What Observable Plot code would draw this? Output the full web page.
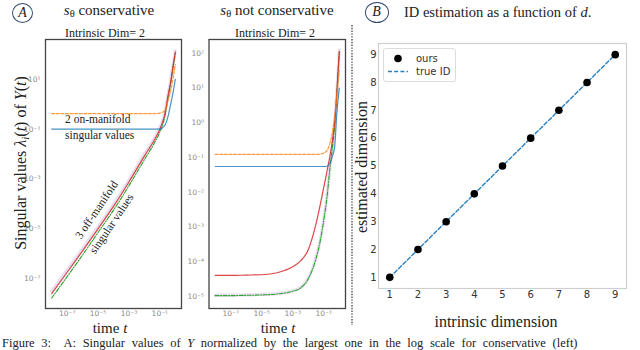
<!DOCTYPE html>
<html><head><meta charset="utf-8">
<script src="https://cdn.jsdelivr.net/npm/d3@7"></script>
<script src="https://cdn.jsdelivr.net/npm/@observablehq/plot@0.6"></script>
<style>
html,body{margin:0;padding:0;background:#fff;overflow:hidden;}
#root{position:relative;width:640px;height:350px;overflow:hidden;font-family:"Liberation Serif","Times New Roman",Tinos,"DejaVu Serif",serif;color:#222;}
.abs{position:absolute;white-space:nowrap;line-height:1;font-family:"Liberation Serif","Times New Roman",Tinos,"DejaVu Serif",serif;}
.panel{position:absolute;top:0;}
sub{font-size:70%;vertical-align:-0.25em;line-height:0;}
</style></head><body><div id="root"></div>
<script>
// ---------- Panel A, left: s_theta conservative ----------
const tLeft = [1e-8, 1e-7, 1e-6, 1e-5, 1e-4, 1e-3, 1e-2, 0.05, 0.1, 0.2, 0.35, 0.5, 0.7, 1.0];
const leftBlue   = [0.1, 0.1, 0.1, 0.1, 0.1, 0.1, 0.1, 0.1, 0.102, 0.135, 0.355, 1.0, 2.8, 10];
const leftOrange = [0.42, 0.42, 0.42, 0.42, 0.42, 0.42, 0.42, 0.42, 0.44, 0.54, 1.5, 3.5, 10, 40];
const leftRed    = [2.5e-8, 1.8e-7, 1.3e-6, 1.0e-5, 7.9e-5, 7.6e-4, 8.3e-3, 0.042, 0.10, 0.35, 2.5, 7.9, 32, 126];
const leftPurple = [3.2e-8, 2.2e-7, 1.6e-6, 1.2e-5, 9.5e-5, 9.1e-4, 0.010, 0.050, 0.117, 0.40, 2.8, 8.9, 35, 141];
const leftGreen  = [1.66e-8, 1.2e-7, 8.9e-7, 7.1e-6, 5.6e-5, 5.4e-4, 6.0e-3, 0.032, 0.076, 0.28, 2.1, 7.1, 28, 112];

// ---------- Panel A, middle: s_theta not conservative ----------
const tMid = [1e-8, 1e-7, 1e-6, 1e-5, 1e-4, 1e-3, 3.2e-3, 1e-2, 3.2e-2, 6.3e-2, 0.1, 0.16, 0.25, 0.35, 0.5, 0.7, 1.0];
const midBlue   = [0.055, 0.055, 0.055, 0.055, 0.055, 0.055, 0.055, 0.055, 0.055, 0.055, 0.055, 0.056, 0.068, 0.105, 0.2, 2.0, 10];
const midOrange = [0.123, 0.123, 0.123, 0.123, 0.123, 0.123, 0.123, 0.123, 0.123, 0.126, 0.135, 0.158, 0.26, 0.50, 1.58, 6.3, 32];
const midRed    = [4.0e-5, 4.0e-5, 4.1e-5, 4.2e-5, 4.8e-5, 7.1e-5, 1.05e-4, 2.2e-4, 1.26e-3, 5.0e-3, 0.014, 0.040, 0.112, 0.28, 1.0, 7.9, 112];
const midPurple = [1.08e-5, 1.08e-5, 1.1e-5, 1.13e-5, 1.2e-5, 1.45e-5, 1.8e-5, 3.3e-5, 1.3e-4, 4.8e-4, 1.65e-3, 7.4e-3, 0.052, 0.185, 0.85, 8.5, 126];
const midGreen  = [1.05e-5, 1.05e-5, 1.07e-5, 1.1e-5, 1.17e-5, 1.4e-5, 1.74e-5, 3.2e-5, 1.26e-4, 4.6e-4, 1.6e-3, 7.1e-3, 0.050, 0.178, 0.79, 7.9, 112];

// axis limits & ticks
const xLimitsA = [3.98e-9, 2.51];
const xTicksA = [1e-7, 1e-5, 1e-3, 1e-1];
const yLimitsLeft = [6.3e-9, 398];
const yTicksLeft = [1e-7, 1e-5, 1e-3, 1e-1, 10];
const yLimitsMid = [4.47e-6, 251];
const yTicksMid = [1e-5, 1e-4, 1e-3, 1e-2, 1e-1, 1, 10, 100];

// ---------- Panel B ----------
const intrinsicDims = [1, 2, 3, 4, 5, 6, 7, 8, 9];
const estimatedDims = [1, 2, 3, 4, 5, 6, 7, 8, 9];
const trueID = [1, 2, 3, 4, 5, 6, 7, 8, 9];
const dimTicks = [1, 2, 3, 4, 5, 6, 7, 8, 9];

const C = {blue:"#1f77b4", orange:"#ff7f0e", green:"#2ca02c", red:"#d62728", purple:"#9467bd"};
const sup = {"-":"⁻","0":"⁰","1":"¹","2":"²","3":"³","4":"⁴","5":"⁵","6":"⁶","7":"⁷","8":"⁸","9":"⁹"};
const fmt10 = d => "10" + String(Math.round(Math.log10(d))).split("").map(c => sup[c]).join("");

const root = document.getElementById("root");
function rows(t, v) { return t.map((tt, i) => ({t: tt, v: v[i]})); }

function panelA(t, series, yLim, yTicks, w, ml, mr) {
  const L = (v, o) => Plot.line(rows(t, v), {x: "t", y: "v", curve: "monotone-x", ...o});
  return Plot.plot({
    width: w, height: 350, marginLeft: ml, marginRight: mr, marginTop: 39, marginBottom: 42,
    x: {type: "log", domain: xLimitsA, ticks: xTicksA, tickFormat: fmt10, tickSize: 0, tickPadding: 2, label: null},
    y: {type: "log", domain: yLim, ticks: yTicks, tickFormat: fmt10, tickSize: 0, tickPadding: 5, label: null},
    style: {fontFamily: "DejaVu Sans", fontSize: "7.5px", color: "#8a8a8a", background: "transparent", overflow: "visible"},
    marks: [
      L(series.purple, {stroke: C.purple, strokeOpacity: 0.22, strokeWidth: 3.2}),
      L(series.green, {stroke: C.green, strokeWidth: 1.1, strokeDasharray: "4,1.5,1,1.5"}),
      L(series.red, {stroke: C.red, strokeWidth: 1.2, strokeOpacity: 0.85}),
      L(series.orange, {stroke: C.orange, strokeWidth: 1.2, strokeDasharray: "3,1.6", strokeOpacity: 0.8}),
      L(series.blue, {stroke: C.blue, strokeWidth: 1.2, strokeOpacity: 0.8}),
      Plot.frame({stroke: "#444", strokeWidth: 1.3})
    ]
  });
}

const pLeft = panelA(tLeft, {blue: leftBlue, orange: leftOrange, red: leftRed, purple: leftPurple, green: leftGreen},
  yLimitsLeft, yTicksLeft, 185, 45, 4);
pLeft.classList.add("panel"); pLeft.style.left = "0px";
root.appendChild(pLeft);

const pMid = panelA(tMid, {blue: midBlue, orange: midOrange, red: midRed, purple: midPurple, green: midGreen},
  yLimitsMid, yTicksMid, 165, 23.5, 5);
pMid.classList.add("panel"); pMid.style.left = "185px";
root.appendChild(pMid);

const bData = intrinsicDims.map((d, i) => ({d, est: estimatedDims[i], tru: trueID[i]}));
const pB = Plot.plot({
  width: 285, height: 350, marginLeft: 23, marginRight: 14, marginTop: 43, marginBottom: 62,
  x: {domain: [0.6, 9.4], ticks: dimTicks, tickSize: 0, tickPadding: 2, label: null},
  y: {domain: [0.6, 9.4], ticks: dimTicks, tickSize: 0, tickPadding: 2, label: null},
  style: {fontFamily: "DejaVu Sans", fontSize: "10px", color: "#333", background: "transparent", overflow: "visible"},
  marks: [
    Plot.frame({stroke: "#cfcfcf", strokeWidth: 1.2}),
    Plot.line(bData, {x: "d", y: "tru", stroke: "#2a7fc0", strokeWidth: 1.4, strokeDasharray: "4,2.2"}),
    Plot.dot(bData, {x: "d", y: "est", r: 3.8, fill: "#000"})
  ]
});
pB.classList.add("panel"); pB.style.left = "355px";
root.appendChild(pB);

// ---------- text overlays ----------
function txt(html, cx, cy, o = {}) {
  const d = document.createElement("div");
  d.className = "abs";
  d.innerHTML = html;
  d.style.left = cx + "px"; d.style.top = cy + "px";
  d.style.fontSize = (o.size || 12) + "px";
  if (o.color) d.style.color = o.color;
  const ax = o.anchor === "start" ? "0" : "-50%";
  d.style.transform = `translate(${ax},-50%)` + (o.rotate ? ` rotate(${o.rotate}deg)` : "");
  if (o.anchor === "start") d.style.transformOrigin = "0 50%";
  root.appendChild(d);
  return d;
}
function circ(letter, cx, cy, w, h) {
  const d = document.createElement("div");
  d.className = "abs";
  d.style.left = (cx - w / 2) + "px"; d.style.top = (cy - h / 2) + "px";
  d.style.width = w + "px"; d.style.height = h + "px";
  d.style.border = "1px solid #34476f"; d.style.borderRadius = "50%";
  d.style.boxSizing = "border-box";
  d.style.display = "flex"; d.style.alignItems = "center"; d.style.justifyContent = "center";
  d.style.fontSize = "14px"; d.style.fontStyle = "italic";
  d.textContent = letter;
  root.appendChild(d);
}
circ("A", 22.5, 13, 21, 20);
circ("B", 376.5, 12, 24, 21);

txt("<i>s</i><sub>θ</sub> conservative", 109, 10, {size: 15});
txt("<i>s</i><sub>θ</sub> not conservative", 277, 10, {size: 15});
txt("Intrinsic Dim= 2", 105, 33, {size: 12});
txt("Intrinsic Dim= 2", 275, 33, {size: 12});
txt("ID estimation as a function of <i>d</i>.", 404, 12, {size: 14.5, anchor: "start"});

txt("Singular values <i>λ<sub>i</sub></i>(<i>t</i>) of <i>Y</i>(<i>t</i>)", 21, 163, {size: 16, rotate: -90});
txt("time <i>t</i>", 110, 328, {size: 15});
txt("time <i>t</i>", 278, 328, {size: 15});
txt("estimated dimension", 362, 167, {size: 16, rotate: -90});
txt("intrinsic dimension", 496, 322, {size: 16});

txt("2 on-manifold", 65, 120, {size: 11.5, anchor: "start"});
txt("singular values", 65, 136, {size: 11.5, anchor: "start"});
txt("3 off-manifold", 97, 210, {size: 11.5, rotate: -56});
txt("singular values", 112, 224, {size: 11.5, rotate: -56});

// vertical dotted separator
const sep = document.createElementNS("http://www.w3.org/2000/svg", "svg");
sep.setAttribute("width", "6"); sep.setAttribute("height", "350");
sep.style.position = "absolute"; sep.style.left = "349px"; sep.style.top = "0";
sep.innerHTML = '<line x1="3" x2="3" y1="25" y2="325" stroke="#333" stroke-width="1.2" stroke-dasharray="1.4,1.4"/>';
root.appendChild(sep);

// legend for B
const leg = document.createElement("div");
leg.style.cssText = "position:absolute;left:383px;top:48px;width:73px;height:34px;border:1px solid #ddd;border-radius:3px;background:#fff;box-sizing:border-box;";
leg.innerHTML = '<svg width="73" height="34" style="position:absolute;left:0;top:0">' +
  '<circle cx="14" cy="9.5" r="3.8" fill="#000"/>' +
  '<line x1="4" x2="24" y1="22.5" y2="22.5" stroke="#2a7fc0" stroke-width="1.5" stroke-dasharray="4,2.2"/>' +
  '<text x="32" y="13" font-family="DejaVu Sans" font-size="10" fill="#333">ours</text>' +
  '<text x="32" y="26" font-family="DejaVu Sans" font-size="10" fill="#333">true ID</text></svg>';
root.appendChild(leg);

// caption (kept fully visible above the bottom edge)
const cap = document.createElement("div");
cap.className = "abs";
cap.style.cssText += "left:2px;top:337px;font-size:12.5px;line-height:12.5px;word-spacing:3.5px;";
cap.innerHTML = "Figure 3:&nbsp; A: Singular values of <i>Y</i> normalized by the largest one in the log scale for conservative (left)";
root.appendChild(cap);
</script></body></html>
